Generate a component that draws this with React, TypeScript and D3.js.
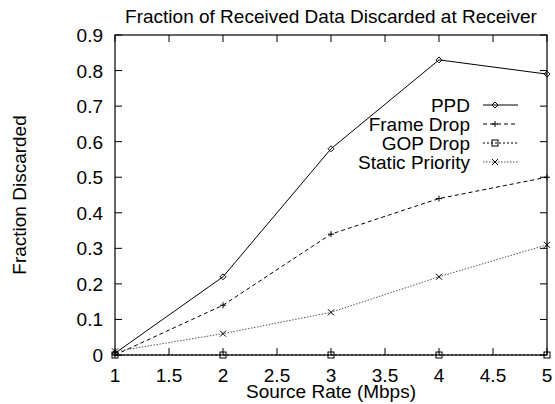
import React from "react";
import * as d3 from "d3";

const rates = [1, 2, 3, 4, 5];
const ppd = [0.005, 0.22, 0.58, 0.83, 0.79];
const frameDrop = [0, 0.14, 0.34, 0.44, 0.5];
const gopDrop = [0, 0, 0, 0, 0];
const staticPriority = [0.01, 0.06, 0.12, 0.22, 0.31];
const xTicks = [1, 1.5, 2, 2.5, 3, 3.5, 4, 4.5, 5];
const yTicks = [0, 0.1, 0.2, 0.3, 0.4, 0.5, 0.6, 0.7, 0.8, 0.9];

const W = 555, H = 404;
const L = 115, R = 547, T = 35, B = 355;
const font = "Liberation Sans, Arial, Helvetica, sans-serif";
const FS = 19;

type Series = { name: string; values: number[]; dash: string; color: string; width: number; marker: string };
const series: Series[] = [
  { name: "PPD", values: ppd, dash: "", color: "#000", width: 1, marker: "diamond" },
  { name: "Frame Drop", values: frameDrop, dash: "4,3", color: "#000", width: 1, marker: "plus" },
  { name: "GOP Drop", values: gopDrop, dash: "2,2", color: "#000", width: 1, marker: "square" },
  { name: "Static Priority", values: staticPriority, dash: "1.5,1.5", color: "#555", width: 1, marker: "cross" },
];

function Marker({ kind, x, y }: { kind: string; x: number; y: number }) {
  const s = 3;
  if (kind === "diamond")
    return <path d={`M${x},${y - s}L${x + s},${y}L${x},${y + s}L${x - s},${y}Z`} fill="none" stroke="#000" strokeWidth={1} />;
  if (kind === "plus")
    return <path d={`M${x - s},${y}H${x + s}M${x},${y - s}V${y + s}`} stroke="#000" strokeWidth={1} />;
  if (kind === "square")
    return <rect x={x - s} y={y - s} width={2 * s} height={2 * s} fill="none" stroke="#000" strokeWidth={1} />;
  return <path d={`M${x - s},${y - s}L${x + s},${y + s}M${x - s},${y + s}L${x + s},${y - s}`} stroke="#000" strokeWidth={1} />;
}

export default function App() {
  const x = d3.scaleLinear().domain([1, 5]).range([L, R]);
  const y = d3.scaleLinear().domain([0, 0.9]).range([B, T]);
  const line = d3.line<number>().x((_, i) => x(rates[i])).y((d) => y(d));
  const legendRows = [105, 124, 143, 162];
  return (
    <svg width={W} height={H} style={{ position: "absolute", left: 0, top: 0, background: "#fff" }} fontFamily={font}>
      <rect width={W} height={H} fill="#fff" />
      <text x={(L + R) / 2} y={22.5} textAnchor="middle" fontSize={FS}>Fraction of Received Data Discarded at Receiver</text>
      {yTicks.map((t) => (
        <g key={"y" + t}>
          <line x1={L} x2={L + 7} y1={y(t)} y2={y(t)} stroke="#000" />
          <line x1={R} x2={R - 7} y1={y(t)} y2={y(t)} stroke="#000" />
          <text x={L - 12} y={y(t) + 7} textAnchor="end" fontSize={FS}>{String(+t.toFixed(1))}</text>
        </g>
      ))}
      {xTicks.map((t) => (
        <g key={"x" + t}>
          <line x1={x(t)} x2={x(t)} y1={B} y2={B - 7} stroke="#000" />
          <line x1={x(t)} x2={x(t)} y1={T} y2={T + 7} stroke="#000" />
          <text x={x(t)} y={B + 27} textAnchor="middle" fontSize={FS}>{String(t)}</text>
        </g>
      ))}
      <text x={(L + R) / 2} y={398} textAnchor="middle" fontSize={FS}>Source Rate (Mbps)</text>
      <text transform={`translate(26,${(T + B) / 2}) rotate(-90)`} textAnchor="middle" fontSize={FS}>Fraction Discarded</text>
      {series.map((s) => (
        <g key={s.name}>
          <path d={line(s.values) || ""} fill="none" stroke={s.color} strokeWidth={s.width} strokeDasharray={s.dash} />
          {s.values.map((v, i) => (
            <Marker key={i} kind={s.marker} x={x(rates[i])} y={y(v)} />
          ))}
        </g>
      ))}
      {series.map((s, i) => (
        <g key={"lg" + s.name}>
          <text x={470} y={legendRows[i] + 7} textAnchor="end" fontSize={FS}>{s.name}</text>
          <line x1={483} x2={518} y1={legendRows[i]} y2={legendRows[i]} stroke={s.color} strokeDasharray={s.dash} />
          <Marker kind={s.marker} x={495} y={legendRows[i]} />
        </g>
      ))}
      <rect x={L} y={T} width={R - L} height={B - T} fill="none" stroke="#000" strokeWidth={1.2} />
    </svg>
  );
}
